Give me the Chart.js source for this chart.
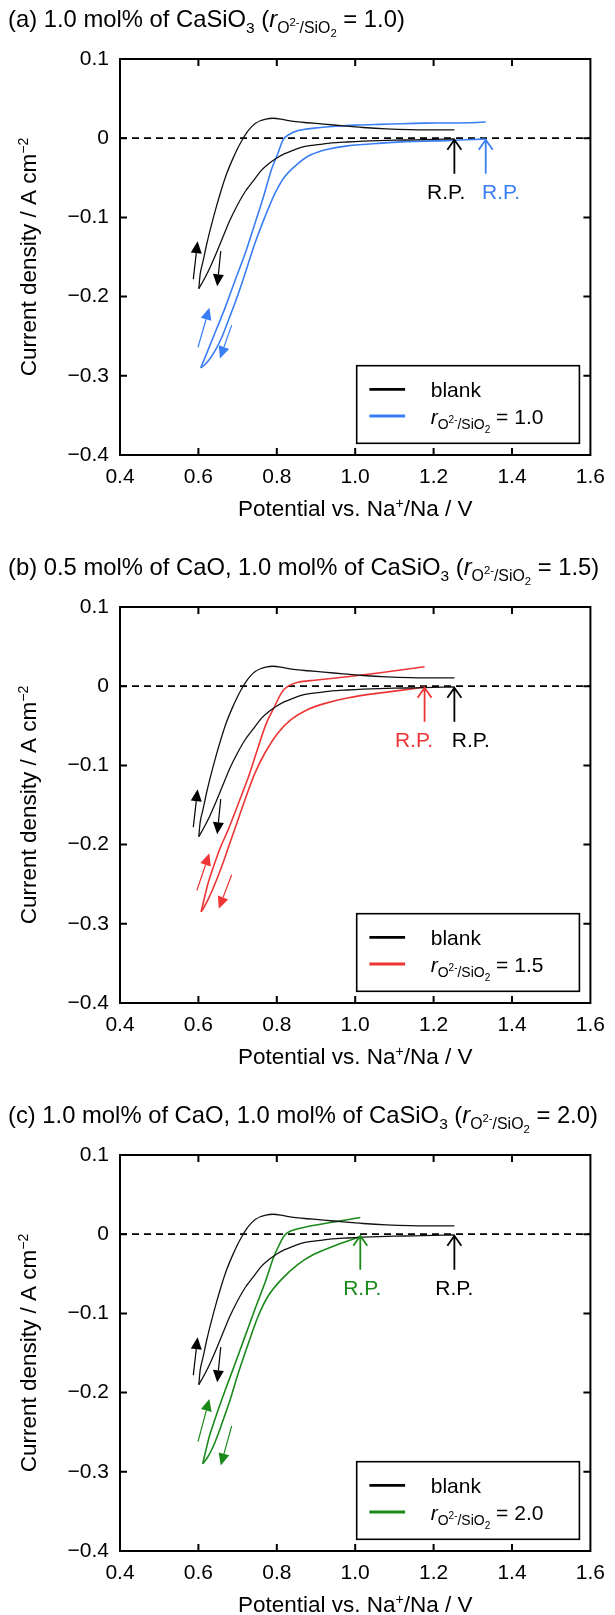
<!DOCTYPE html>
<html><head><meta charset="utf-8">
<script src="https://cdn.jsdelivr.net/npm/chart.js@4.4.1/dist/chart.umd.min.js"></script>
<style>
html,body{margin:0;padding:0;background:#fff;width:615px;height:1615px;overflow:hidden;position:relative;}
canvas{position:absolute;left:0;}
</style></head><body>
<canvas id="pa" width="615" height="548" style="top:0px"></canvas>
<canvas id="pb" width="615" height="548" style="top:548px"></canvas>
<canvas id="pc" width="615" height="548" style="top:1096px"></canvas>
<script>
// Axis ticks
const xTickValues = [0.4, 0.6, 0.8, 1.0, 1.2, 1.4, 1.6];
const yTickValues = [-0.4, -0.3, -0.2, -0.1, 0, 0.1];

// Blank melt CV: cathodic scan from rest potential to the vertex, then anodic scan back
const blankV = [1.253, 1.20, 1.15, 1.10, 1.06, 1.02, 0.98, 0.94, 0.91, 0.88, 0.86, 0.84, 0.82, 0.80, 0.78, 0.76, 0.74, 0.72, 0.70, 0.68, 0.66, 0.645, 0.63, 0.618, 0.608, 0.601,
  0.605, 0.612, 0.622, 0.633, 0.645, 0.658, 0.672, 0.686, 0.70, 0.712, 0.722, 0.733, 0.745, 0.758, 0.772, 0.79, 0.81, 0.83, 0.855, 0.88, 0.92, 0.97, 1.02, 1.08, 1.14, 1.20, 1.253];
const blankJ = [-0.001, -0.0015, -0.002, -0.0025, -0.003, -0.0038, -0.0048, -0.006, -0.0078, -0.0098, -0.012, -0.0155, -0.0195, -0.025, -0.032, -0.041, -0.054, -0.067, -0.084, -0.104, -0.128, -0.146, -0.163, -0.175, -0.184, -0.190,
  -0.170, -0.155, -0.132, -0.110, -0.088, -0.066, -0.045, -0.028, -0.013, -0.002, 0.006, 0.013, 0.0185, 0.022, 0.0242, 0.0252, 0.0242, 0.0222, 0.0205, 0.0195, 0.0178, 0.0155, 0.0135, 0.0118, 0.0108, 0.0105, 0.0105];

// r = 1.0 (1.0 mol% CaSiO3)
const r10V = [1.333, 1.28, 1.23, 1.15, 1.06, 0.98, 0.93, 0.887, 0.854, 0.82, 0.795, 0.77, 0.744, 0.719, 0.697, 0.678, 0.66, 0.643, 0.627, 0.614, 0.606,
  0.625, 0.647, 0.669, 0.694, 0.719, 0.744, 0.766, 0.786, 0.803, 0.816, 0.829, 0.854, 0.896, 0.95, 1.0, 1.06, 1.12, 1.18, 1.24, 1.29, 1.333];
const r10J = [-0.001, -0.002, -0.003, -0.004, -0.0065, -0.0097, -0.014, -0.021, -0.032, -0.0486, -0.070, -0.099, -0.133, -0.171, -0.203, -0.228, -0.251, -0.268, -0.280, -0.287, -0.290,
  -0.267, -0.240, -0.213, -0.179, -0.146, -0.108, -0.074, -0.040, -0.019, -0.002, 0.004, 0.0096, 0.0127, 0.015, 0.0165, 0.0175, 0.0183, 0.019, 0.0192, 0.0195, 0.0205];

// r = 1.5 (0.5 mol% CaO + 1.0 mol% CaSiO3)
const r15V = [1.177, 1.12, 1.064, 0.98, 0.921, 0.879, 0.837, 0.803, 0.77, 0.744, 0.719, 0.698, 0.681, 0.665, 0.65, 0.636, 0.622, 0.612, 0.607,
  0.614, 0.624, 0.637, 0.655, 0.677, 0.702, 0.728, 0.753, 0.774, 0.795, 0.812, 0.829, 0.854, 0.896, 0.98, 1.064, 1.177];
const r15J = [-0.001, -0.005, -0.0084, -0.0148, -0.022, -0.0295, -0.042, -0.059, -0.084, -0.11, -0.143, -0.173, -0.197, -0.220, -0.240, -0.257, -0.272, -0.281, -0.285,
  -0.270, -0.250, -0.230, -0.205, -0.180, -0.148, -0.114, -0.076, -0.046, -0.025, -0.0084, 0.0, 0.005, 0.0076, 0.012, 0.017, 0.0245];

// r = 2.0 (1.0 mol% CaO + 1.0 mol% CaSiO3)
const r20V = [1.013, 0.946, 0.896, 0.854, 0.812, 0.778, 0.753, 0.728, 0.702, 0.681, 0.665, 0.65, 0.636, 0.623, 0.611,
  0.618, 0.628, 0.638, 0.648, 0.669, 0.694, 0.719, 0.744, 0.77, 0.79, 0.807, 0.82, 0.837, 0.879, 0.946, 1.013];
const r20J = [-0.003, -0.0148, -0.025, -0.038, -0.057, -0.078, -0.103, -0.137, -0.175, -0.209, -0.232, -0.253, -0.270, -0.282, -0.290,
  -0.275, -0.255, -0.240, -0.225, -0.196, -0.163, -0.129, -0.095, -0.061, -0.0316, -0.0127, -0.0013, 0.0042, 0.0097, 0.0156, 0.021];

// Scan-direction arrows near the vertex: [x0, y0, x1, y1] in data units, head at (x1, y1)
const blankScanArrows = [[0.587, -0.178, 0.598, -0.130], [0.657, -0.1425, 0.648, -0.187]];
const r10ScanArrows = [[0.599, -0.264, 0.628, -0.214], [0.685, -0.236, 0.655, -0.278]];
const r15ScanArrows = [[0.596, -0.258, 0.628, -0.211], [0.685, -0.238, 0.652, -0.281]];
const r20ScanArrows = [[0.599, -0.262, 0.628, -0.208], [0.685, -0.242, 0.657, -0.292]];

// Rest potentials (arrow position, label position) in V
const restBlank = [1.253, 1.232];
const restR10 = [1.333, 1.372];
const restBlankB = [1.253, 1.295];
const restR15 = [1.177, 1.15];
const restBlankC = [1.253, 1.253];
const restR20 = [1.013, 1.018];

const FONT = '"Liberation Sans", Arial, Helvetica, sans-serif';
const FS = 21;      // tick labels, legend, R.P.
const FT = 22.5;    // axis titles
const FH = 23.8;    // panel headings
const BLACK = '#000000';
const BLUE = '#3a7ef5';
const RED = '#ee3535';
const GREEN = '#1b8a1b';

function ratioSegs(k) {
  return [
    { t: 'r', italic: true, size: FS * k },
    { t: 'O', size: 14 * k, dy: 5 * k },
    { t: '2-', size: 10 * k, dy: -1 * k },
    { t: '/SiO', size: 14 * k, dy: 5 * k },
    { t: '2', size: 10 * k, dy: 9 * k }
  ];
}
function headSegs(text, ratio) {
  const k = FH / FS;
  return [{ t: text, size: FH }, { t: '3', size: 15.5, dy: 5.5 }, { t: ' (', size: FH },
          ...ratioSegs(k), { t: ' = ' + ratio + ')', size: FH }];
}

const panels = [
  { id: 'pa', color: BLUE, V: r10V, J: r10J, arrows: r10ScanArrows,
    rest: [{ p: restBlank, c: BLACK }, { p: restR10, c: BLUE }],
    title: headSegs('(a) 1.0 mol% of CaSiO', '1.0'), ratio: '1.0' },
  { id: 'pb', color: RED, V: r15V, J: r15J, arrows: r15ScanArrows,
    rest: [{ p: restBlankB, c: BLACK }, { p: restR15, c: RED }],
    title: headSegs('(b) 0.5 mol% of CaO, 1.0 mol% of CaSiO', '1.5'), ratio: '1.5' },
  { id: 'pc', color: GREEN, V: r20V, J: r20J, arrows: r20ScanArrows,
    rest: [{ p: restBlankC, c: BLACK }, { p: restR20, c: GREEN }],
    title: headSegs('(c) 1.0 mol% of CaO, 1.0 mol% of CaSiO', '2.0'), ratio: '2.0' }
];

function fontOf(s) {
  return (s.italic ? 'italic ' : '') + (s.size || FS) + 'px ' + FONT;
}
function richWidth(ctx, segs) {
  let w = 0;
  for (const s of segs) { ctx.font = fontOf(s); w += ctx.measureText(s.t).width; }
  return w;
}
function drawRich(ctx, segs, x, y, align, color) {
  const w = richWidth(ctx, segs);
  let cx = align === 'center' ? x - w / 2 : x;
  ctx.fillStyle = color || BLACK;
  ctx.textAlign = 'left';
  ctx.textBaseline = 'alphabetic';
  for (const s of segs) {
    ctx.font = fontOf(s);
    ctx.fillText(s.t, cx, y + (s.dy || 0));
    cx += ctx.measureText(s.t).width;
  }
}

function filledArrow(ctx, x0, y0, x1, y1, color) {
  const ang = Math.atan2(y1 - y0, x1 - x0);
  const hl = 12, hw = 5.5;
  const bx = x1 - hl * Math.cos(ang), by = y1 - hl * Math.sin(ang);
  ctx.strokeStyle = color; ctx.fillStyle = color; ctx.lineWidth = 1.2;
  ctx.beginPath(); ctx.moveTo(x0, y0); ctx.lineTo(bx, by); ctx.stroke();
  ctx.beginPath();
  ctx.moveTo(x1, y1);
  ctx.lineTo(bx + hw * Math.sin(ang), by - hw * Math.cos(ang));
  ctx.lineTo(bx - hw * Math.sin(ang), by + hw * Math.cos(ang));
  ctx.closePath(); ctx.fill();
}

function makeDecor(panel) {
  return {
    id: 'decor',
    beforeDatasetsDraw(chart) {
      const { ctx, chartArea: a, scales: { y } } = chart;
      const y0 = y.getPixelForValue(0);
      ctx.save();
      ctx.strokeStyle = BLACK; ctx.lineWidth = 1.8; ctx.setLineDash([7, 5]);
      ctx.beginPath(); ctx.moveTo(a.left, y0); ctx.lineTo(a.right, y0); ctx.stroke();
      ctx.restore();
    },
    afterDatasetsDraw(chart) {
      const { ctx, chartArea: a, scales: { x, y } } = chart;
      ctx.save();
      // frame and inward ticks
      ctx.strokeStyle = BLACK; ctx.lineWidth = 2;
      ctx.strokeRect(a.left, a.top, a.right - a.left, a.bottom - a.top);
      ctx.beginPath();
      xTickValues.slice(1, -1).forEach(v => {
        const px = x.getPixelForValue(v);
        ctx.moveTo(px, a.bottom); ctx.lineTo(px, a.bottom - 7);
        ctx.moveTo(px, a.top); ctx.lineTo(px, a.top + 7);
      });
      yTickValues.slice(1, -1).forEach(v => {
        const py = y.getPixelForValue(v);
        ctx.moveTo(a.left, py); ctx.lineTo(a.left + 7, py);
        ctx.moveTo(a.right, py); ctx.lineTo(a.right - 7, py);
      });
      ctx.stroke();

      // scan direction arrows
      const drawSet = (list, color) => list.forEach(s => filledArrow(ctx,
        x.getPixelForValue(s[0]), y.getPixelForValue(s[1]),
        x.getPixelForValue(s[2]), y.getPixelForValue(s[3]), color));
      drawSet(blankScanArrows, BLACK);
      drawSet(panel.arrows, panel.color);

      // rest potential markers
      panel.rest.forEach(r => {
        const px = x.getPixelForValue(r.p[0]);
        const tip = y.getPixelForValue(-0.002);
        const base = y.getPixelForValue(-0.045);
        ctx.strokeStyle = r.c; ctx.lineWidth = 1.8;
        ctx.beginPath();
        ctx.moveTo(px, base); ctx.lineTo(px, tip);
        ctx.moveTo(px - 7, tip + 10); ctx.lineTo(px, tip); ctx.lineTo(px + 7, tip + 10);
        ctx.stroke();
        ctx.fillStyle = r.c; ctx.font = FS + 'px ' + FONT;
        ctx.textAlign = 'center'; ctx.textBaseline = 'alphabetic';
        ctx.fillText('R.P.', x.getPixelForValue(r.p[1]), y.getPixelForValue(-0.067) + 7.5);
      });

      // legend
      const bw = 222.7, bh = 77.6;
      const bx = a.right - 11 - bw, by = a.bottom - 11.7 - bh;
      ctx.fillStyle = '#fff'; ctx.fillRect(bx, by, bw, bh);
      ctx.strokeStyle = BLACK; ctx.lineWidth = 1.6;
      ctx.strokeRect(bx, by, bw, bh);
      const rows = [{ c: BLACK, segs: [{ t: 'blank' }] },
                    { c: panel.color, segs: [...ratioSegs(1), { t: ' = ' + panel.ratio }] }];
      rows.forEach((r, i) => {
        const ry = by + 23.6 + i * 26.7;
        ctx.strokeStyle = r.c; ctx.lineWidth = 2.8;
        ctx.beginPath(); ctx.moveTo(bx + 12.7, ry); ctx.lineTo(bx + 48.4, ry); ctx.stroke();
        drawRich(ctx, r.segs, bx + 74, ry + 7.5, 'left', BLACK);
      });
      ctx.restore();
    },
    afterDraw(chart) {
      const { ctx, chartArea: a } = chart;
      ctx.save();
      // panel heading
      drawRich(ctx, panel.title, 8, 27, 'left', BLACK);
      // x-axis title
      drawRich(ctx, [{ t: 'Potential vs. Na', size: FT }, { t: '+', size: 14, dy: -8.5 }, { t: '/Na / V', size: FT }],
        (a.left + a.right) / 2, a.bottom + 61, 'center', BLACK);
      // y-axis title
      ctx.translate(36, (a.top + a.bottom) / 2);
      ctx.rotate(-Math.PI / 2);
      drawRich(ctx, [{ t: 'Current density / A cm', size: FT }, { t: '\u22122', size: 14, dy: -8.5 }], 0, 0, 'center', BLACK);
      ctx.restore();
    }
  };
}

function fmtY(v) {
  if (Math.abs(v) < 1e-9) return '0';
  return (v < 0 ? '\u2212' : '') + Math.abs(v).toFixed(1);
}

// split a sweep at its vertex (most negative current) into cathodic and anodic branches
function branches(V, J) {
  let k = 0;
  J.forEach((j, i) => { if (j < J[k]) k = i; });
  const pts = V.map((v, i) => ({ x: v, y: J[i] }));
  return [pts.slice(0, k + 1), pts.slice(k)];
}

function lineSet(label, data, color, width) {
  return { label, data, showLine: true, borderColor: color, borderWidth: width, pointRadius: 0, tension: 0.3, fill: false };
}

panels.forEach(panel => {
  const [bc, ba] = branches(blankV, blankJ);
  const [sc, sa] = branches(panel.V, panel.J);
  new Chart(document.getElementById(panel.id), {
    type: 'scatter',
    data: {
      datasets: [
        lineSet('blank', bc, '#111', 1.3),
        lineSet('blank', ba, '#111', 1.3),
        lineSet('r = ' + panel.ratio, sc, panel.color, 1.6),
        lineSet('r = ' + panel.ratio, sa, panel.color, 1.6)
      ]
    },
    options: {
      responsive: false,
      animation: false,
      events: [],
      layout: { padding: { top: 59, right: 18, left: 0, bottom: 0 } },
      plugins: { legend: { display: false }, tooltip: { enabled: false }, title: { display: false } },
      scales: {
        x: {
          type: 'linear', min: 0.4, max: 1.6,
          afterBuildTicks: s => { s.ticks = xTickValues.map(v => ({ value: v })); },
          afterFit: s => { s.height = 93; },
          grid: { display: false, drawTicks: false },
          border: { display: false },
          ticks: { padding: 10, maxRotation: 0, autoSkip: false, color: BLACK, font: { family: FONT, size: FS },
                   callback: v => Number(v).toFixed(1) }
        },
        y: {
          type: 'linear', min: -0.4, max: 0.1,
          afterBuildTicks: s => { s.ticks = yTickValues.map(v => ({ value: v })); },
          afterFit: s => { s.width = 120; },
          grid: { display: false, drawTicks: false },
          border: { display: false },
          ticks: { padding: 11, autoSkip: false, color: BLACK, font: { family: FONT, size: FS },
                   callback: v => fmtY(v) }
        }
      }
    },
    plugins: [makeDecor(panel)]
  });
});
</script>
</body></html>
